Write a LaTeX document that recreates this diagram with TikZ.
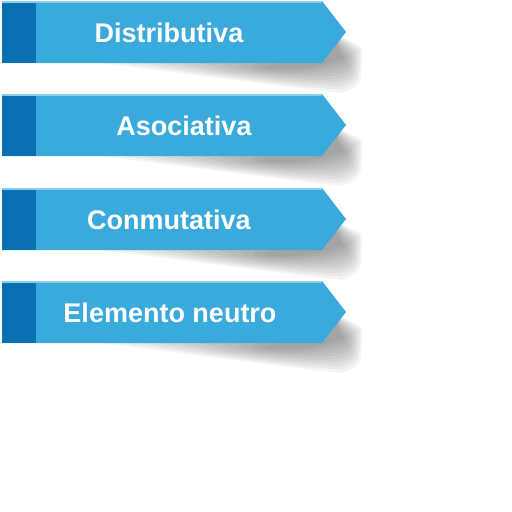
\documentclass[tikz,border=0pt]{standalone}
\usepackage{fontspec}
\setmainfont{Liberation Sans}
\definecolor{bodyblue}{HTML}{3AA9DC}
\definecolor{darkblue}{HTML}{0B70B3}
\definecolor{edgeblue}{HTML}{8ACDEC}

\begin{document}
\begin{tikzpicture}[x=1pt,y=-1pt,
   label text/.style={text=white,font=\bfseries\fontsize{27}{30}\selectfont},
   shade layer/.style={fill=black,opacity=0.042}]
\useasboundingbox (0,0) rectangle (512,512);

\foreach \y/\t/\x [count=\i] in {1/Distributiva/169, 94/Asociativa/184,
   188/Conmutativa/169, 281/Elemento neutro/170}
{
  % shadow under the banner
  \foreach \k in {0,...,9}
    \fill[shade layer] (100+20*\k,\y+55) -- (100+20*\k,\y+62)
       .. controls (230,\y+66+12-1.2*\k) and (300,\y+76+12-1.6*\k) .. (342-\k,\y+92-3.5*\k)
       .. controls (362-2*\k,\y+84-3*\k) .. (362-2*\k,\y+46+1.5*\k) -- (330,\y+30) -- cycle;
  % banner
  \fill[bodyblue] (2,\y) -- (322,\y) -- (346,\y+31) -- (322,\y+62) -- (2,\y+62) -- cycle;
  \fill[darkblue] (2,\y) rectangle (36,\y+62);
  \draw[edgeblue,line width=1.5pt] (2,\y+0.75) -- (322,\y+0.75);
  \node[label text] (lbl\i) at (\x,\y+32) {\t};
}

\end{tikzpicture}
\end{document}
